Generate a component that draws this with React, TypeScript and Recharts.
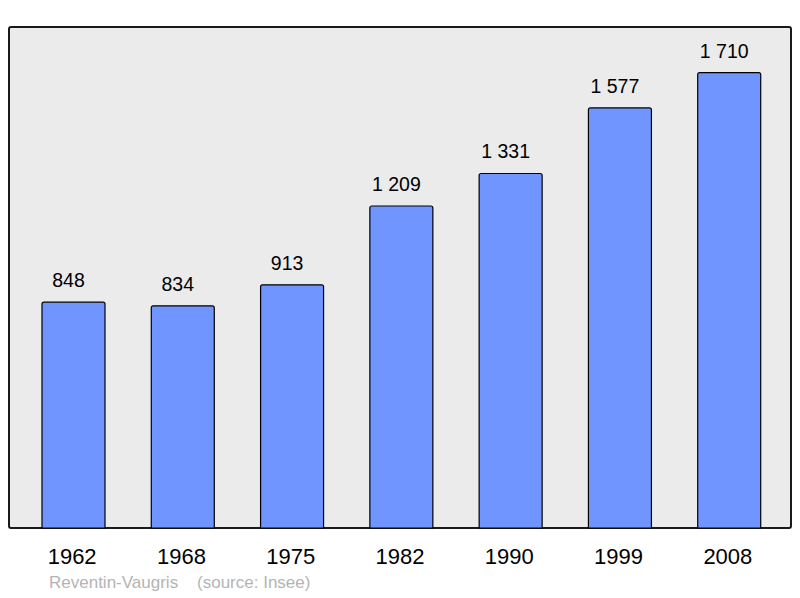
import { BarChart, Bar, XAxis, YAxis, LabelList } from 'recharts';

const years = ['1962', '1968', '1975', '1982', '1990', '1999', '2008'];
const population = [848, 834, 913, 1209, 1331, 1577, 1710];
const footer = 'Reventin-Vaugris    (source: Insee)';

const data = years.map((year, i) => ({ year, population: population[i] }));

const font = '"Liberation Sans", Arial, sans-serif';

const fmt = (v: number) => String(v).replace(/\B(?=(\d{3})+(?!\d))/g, ' ');

const ValueLabel = (props: any) => {
  const { x, y, width, value } = props;
  return (
    <text x={x + width / 2 - 5} y={y - 15} textAnchor="middle" fontSize={19.5} fontFamily={font} fill="#000">
      {fmt(value)}
    </text>
  );
};

const YearTick = (props: any) => {
  const { x, payload } = props;
  return (
    <text x={x - 1.5} y={564} textAnchor="middle" fontSize={22} fontFamily={font} fill="#000">
      {payload.value}
    </text>
  );
};

const App = () => {
  return (
    <div style={{ position: 'fixed', left: 0, top: 0, width: 800, height: 598, background: '#fff' }}>
      <div
        style={{
          position: 'absolute',
          left: 8,
          top: 26,
          width: 780,
          height: 499,
          border: '2px solid #1a1a1a',
          borderRadius: 3,
          background: '#ebebeb',
        }}
      />
      <div style={{ position: 'absolute', left: 0, top: 0 }}>
        <BarChart width={800} height={598} data={data} margin={{ top: 27, left: 9, right: 10, bottom: 0 }}>
          <XAxis
            dataKey="year"
            axisLine={false}
            tickLine={false}
            height={70}
            padding={{ left: 10, right: 6 }}
            tick={<YearTick />}
            interval={0}
          />
          <YAxis hide domain={[0, 1881]} />
          <Bar
            dataKey="population"
            fill="#7095ff"
            stroke="#000"
            strokeWidth={1.2}
            barSize={63}
            radius={[2, 2, 0, 0]}
            isAnimationActive={false}
          >
            <LabelList dataKey="population" content={<ValueLabel />} />
          </Bar>
        </BarChart>
      </div>
      <div
        style={{
          position: 'absolute',
          left: 49,
          top: 573,
          fontFamily: font,
          fontSize: 17,
          color: '#b4b4b4',
          whiteSpace: 'pre',
        }}
      >
        {footer}
      </div>
    </div>
  );
};

export default App;
